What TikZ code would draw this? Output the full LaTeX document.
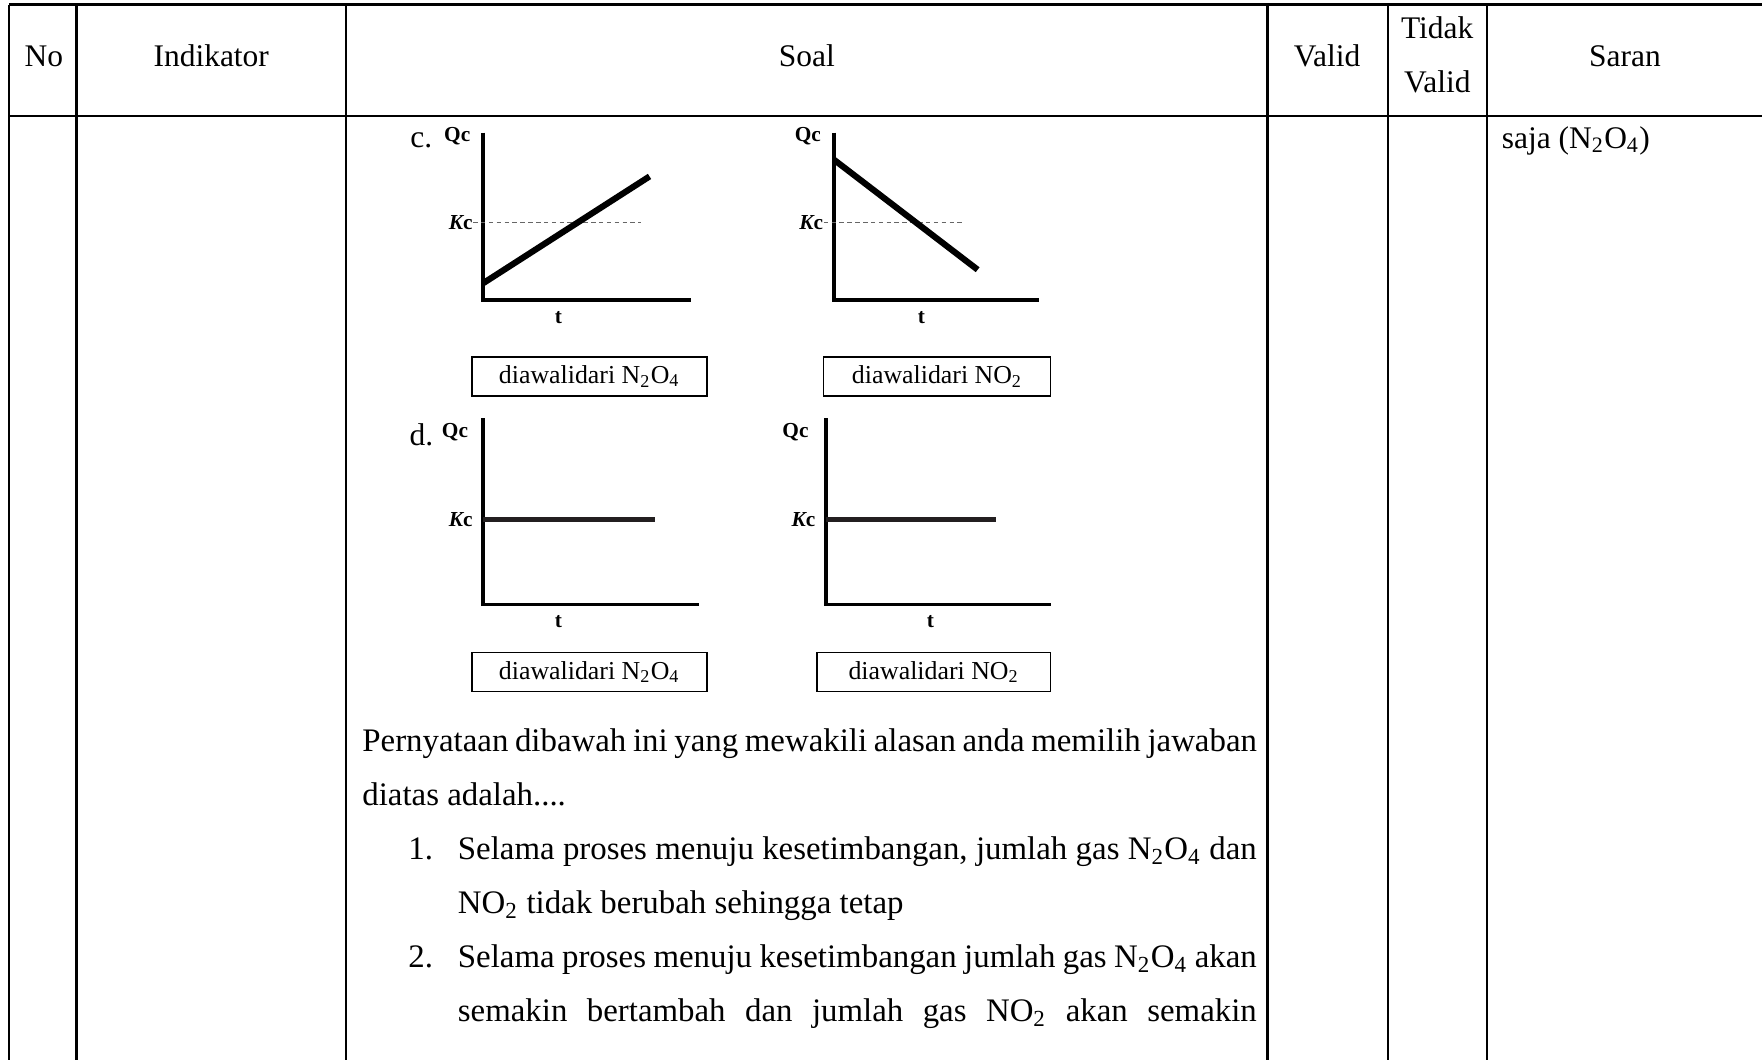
\documentclass[tikz,border=0pt]{standalone}
\usepackage{fontspec}
\setmainfont{Liberation Serif}
\usetikzlibrary{calc}

\newcommand{\ntwoofour}{N\textsubscript{2}O\textsubscript{4}}
\newcommand{\notwo}{NO\textsubscript{2}}

\tikzset{
  rule line/.style={line width=0.8pt},
  axis line/.style={line width=1.3pt},
  trend line/.style={line width=2.2pt},
  kc dash/.style={dashed, dash pattern=on 1.6pt off 1.2pt, line width=0.35pt, black!60},
  kc flat/.style={line width=1.9pt, color={rgb,255:red,35;green,31;blue,32}},
  axis label/.style={font=\fontsize{7.6}{8}\selectfont\bfseries, inner sep=0pt},
  body/.style={font=\fontsize{11.2}{13}\selectfont, inner sep=0pt},
  stem/.style={font=\fontsize{11.7}{13}\selectfont, inner sep=0pt, anchor=base west},
  state box/.style={draw, line width=0.5pt, minimum height=14pt, inner sep=0pt,
    font=\fontsize{9.2}{11}\selectfont}
}

\begin{document}
\begin{tikzpicture}[x=0.4pt, y=-0.4pt]
\useasboundingbox (0,0) rectangle (1568,943);

% Table rules
\draw[rule line] (8,4) -- (1568,4);
\draw[rule line] (8,103) -- (1568,103);
\foreach \x in {8,68,308,1128,1235,1323}
  \draw[rule line] (\x,4) -- (\x,943);

% Header
\node[body] (hno) at (39,50) {No};
\node[body] (hind) at (188,50) {Indikator};
\node[body] (hsoal) at (718,50) {Soal};
\node[body] (hvalid) at (1181,50) {Valid};
\node[body] (htidak) at (1279,25) {Tidak};
\node[body] (htvalid) at (1279,73) {Valid};
\node[body] (hsaran) at (1446,50) {Saran};

% Saran column
\node[body, anchor=base west] (saran) at (1336,132) {saja (\ntwoofour)};

% Option c, first graph
\node[body] (optc) at (375,125) {c.};
\coordinate (c1o) at (430,267);
\draw[axis line] (430,118) -- (c1o) -- (615,267);
\draw[kc dash] (421,198) -- (570,198);
\draw[trend line] (430,252) -- (578,157);
\node[axis label, anchor=east] (c1qc) at (419,121) {Qc};
\node[axis label, anchor=east] (c1kc) at (421,198) {{\itshape K}c};
\node[axis label] (c1t) at (497,283) {t};
\node[state box, minimum width=83.6pt] (c1box) at (524.5,335) {diawalidari \ntwoofour};

% Option c, second graph
\coordinate (c2o) at (742,267);
\draw[axis line] (742,118) -- (c2o) -- (925,267);
\draw[kc dash] (733,198) -- (856,198);
\draw[trend line] (742,142) -- (870,240);
\node[axis label, anchor=east] (c2qc) at (731,121) {Qc};
\node[axis label, anchor=east] (c2kc) at (733,198) {{\itshape K}c};
\node[axis label] (c2t) at (820,283) {t};
\node[state box, minimum width=80.8pt] (c2box) at (834,335) {diawalidari \notwo};

% Option d, first graph
\node[body] (optd) at (375,387) {d.};
\coordinate (d1o) at (430,538);
\draw[axis line] (430,372) -- (d1o) -- (622,538);
\draw[kc flat] (430,462) -- (583,462);
\node[axis label, anchor=east] (d1qc) at (417,385) {Qc};
\node[axis label, anchor=east] (d1kc) at (421,462) {{\itshape K}c};
\node[axis label] (d1t) at (497,553) {t};
\node[state box, minimum width=83.6pt] (d1box) at (524.5,598) {diawalidari \ntwoofour};

% Option d, second graph
\coordinate (d2o) at (735,538);
\draw[axis line] (735,372) -- (d2o) -- (935,538);
\draw[kc flat] (735,462) -- (886,462);
\node[axis label, anchor=east] (d2qc) at (720,385) {Qc};
\node[axis label, anchor=east] (d2kc) at (726,462) {{\itshape K}c};
\node[axis label] (d2t) at (828,553) {t};
\node[state box, minimum width=83.2pt] (d2box) at (831,598) {diawalidari \notwo};

% Reason statements
\node[stem] (reason1) at (322,669)
  {\makebox[318.4pt][s]{Pernyataan dibawah ini yang mewakili alasan anda memilih jawaban}};
\node[stem] (reason2) at (322,717) {diatas adalah....};
\node[stem] (num1) at (363,765) {1.};
\node[stem] (item1a) at (407,765)
  {\makebox[284.4pt][s]{Selama proses menuju kesetimbangan, jumlah gas \ntwoofour{} dan}};
\node[stem] (item1b) at (407,813) {\notwo\ tidak berubah sehingga tetap};
\node[stem] (num2) at (363,861) {2.};
\node[stem] (item2a) at (407,861)
  {\makebox[284.4pt][s]{Selama proses menuju kesetimbangan jumlah gas \ntwoofour{} akan}};
\node[stem] (item2b) at (407,909)
  {\makebox[284.4pt][s]{semakin bertambah dan jumlah gas \notwo{} akan semakin}};

\end{tikzpicture}
\end{document}
